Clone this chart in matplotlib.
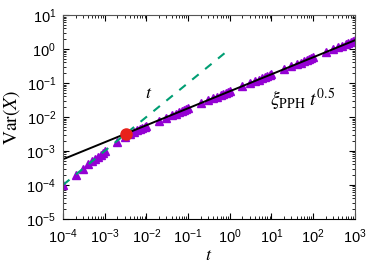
import matplotlib
matplotlib.use('Agg')
import matplotlib.pyplot as plt
from matplotlib.ticker import LogLocator

plt.rcParams['font.family'] = ['Liberation Sans', 'DejaVu Sans']
plt.rcParams['mathtext.fontset'] = 'custom'
plt.rcParams['mathtext.rm'] = 'Liberation Sans'

# simulation data
t_sim = [1e-4, 2e-4, 3e-4, 4e-4, 5e-4, 6e-4, 7e-4, 8e-4, 9e-4,
         1e-3, 2e-3, 3e-3, 4e-3, 5e-3, 6e-3, 7e-3, 8e-3, 9e-3,
         1e-2, 2e-2, 3e-2, 4e-2, 5e-2, 6e-2, 7e-2, 8e-2, 9e-2,
         1e-1, 2e-1, 3e-1, 4e-1, 5e-1, 6e-1, 7e-1, 8e-1, 9e-1,
         1, 2, 3, 4, 5, 6, 7, 8, 9,
         10, 20, 30, 40, 50, 60, 70, 80, 90,
         100, 200, 300, 400, 500, 600, 700, 800, 900, 1000]
var_sim = [1.0e-4, 2.0e-4, 3.0e-4, 4.0e-4, 4.9e-4, 5.9e-4, 6.8e-4, 7.8e-4, 8.7e-4,
           9.7e-4, 1.8e-3, 2.5e-3, 3.1e-3, 3.6e-3, 4.0e-3, 4.4e-3, 4.8e-3, 5.1e-3,
           5.5e-3, 7.8e-3, 9.6e-3, 1.12e-2, 1.25e-2, 1.37e-2, 1.49e-2, 1.58e-2, 1.68e-2,
           1.78e-2, 2.52e-2, 3.08e-2, 3.55e-2, 3.98e-2, 4.40e-2, 4.72e-2, 5.05e-2, 5.38e-2,
           5.65e-2, 7.9e-2, 9.7e-2, 0.112, 0.126, 0.139, 0.149, 0.160, 0.170,
           0.178, 0.250, 0.308, 0.356, 0.398, 0.437, 0.472, 0.505, 0.536,
           0.565, 0.80, 0.98, 1.13, 1.26, 1.39, 1.50, 1.60, 1.70, 1.79]

# reference lines
lin_t = [1e-4, 1.0]
lin_v = [1e-4, 1.0]
fit_t = [1e-4, 1e3]
fit_v = [5.7e-4, 1.8]
cross_t = [3.25e-3]
cross_v = [3.25e-3]

fig = plt.figure(figsize=(3.82, 2.67), dpi=100)
ax = fig.add_axes([0.165, 0.18, 0.764, 0.764])

ax.plot(t_sim, var_sim, ls='none', marker='^', ms=5.5, color='#9400d3', mec='#9400d3')
ax.plot(lin_t, lin_v, ls=(0, (4, 4)), lw=1.5, color='#009e73')
ax.plot(fit_t, fit_v, '-', lw=1.4, color='black')
ax.plot(cross_t, cross_v, 'o', ms=8, color='#e8221b', zorder=5)

ax.set_xscale('log')
ax.set_yscale('log')
ax.set_xlim(1e-4, 1e3)
ax.set_ylim(1e-5, 1e1)
for axis in (ax.xaxis, ax.yaxis):
    axis.set_major_locator(LogLocator(base=10, numticks=20))
    axis.set_minor_locator(LogLocator(base=10, subs=range(2, 10), numticks=20))

ax.tick_params(which='both', direction='in', top=True, right=True, labelsize=10.5)
ax.tick_params(axis='x', which='major', pad=6)
ax.tick_params(axis='y', which='major', pad=5)
ax.tick_params(which='major', length=4)
ax.tick_params(which='minor', length=2)
for s in ax.spines.values():
    s.set_color('#555555')
ax.spines['bottom'].set_color('black')

ax.set_xlabel(r'$t$', fontsize=13, math_fontfamily='stix', labelpad=1)
ax.set_ylabel(r'$\mathrm{Var}(X)$', fontsize=14, math_fontfamily='stix', labelpad=3)

ax.text(0.0115, 0.048, r'$t$', fontsize=13, math_fontfamily='stix', ha='center', va='center')
ax.text(9, 0.032, r'$\xi_{\mathrm{PPH}}\ t^{0.5}$', fontsize=14, math_fontfamily='stix',
        ha='left', va='center')

fig.savefig('out.png', dpi=100)
